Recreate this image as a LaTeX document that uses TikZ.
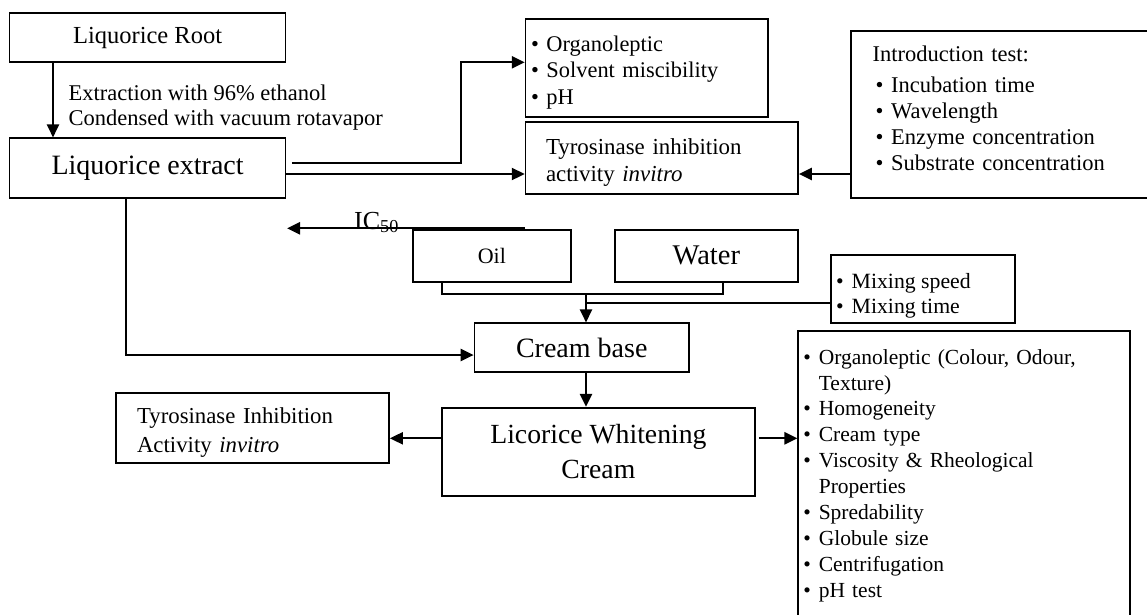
\documentclass[tikz,border=0pt]{standalone}
\usepackage{fontspec}
\setmainfont{Liberation Serif}
\usepackage{tikz}
\usetikzlibrary{arrows.meta}

\newcommand\bul{\makebox[15.5pt][l]{\textbullet}}

\tikzset{
  box/.style={draw, line width=1.7pt, inner sep=0pt},
  txt/.style={inner sep=0pt, align=left},
  line/.style={line width=2.3pt},
  arr/.style={line width=2.3pt, -{Triangle[length=13pt,width=12pt]}}
}

\begin{document}
\begin{tikzpicture}[x=1pt, y=-1pt]
		\useasboundingbox (0,0) rectangle (1147,614);
		% left column
		\node[box, minimum width=276, minimum height=49, font=\fontsize{24.5}{29}\selectfont] (root) at (147.6,37.8) {Liquorice Root};
		\node[box, minimum width=276, minimum height=59.4, font=\fontsize{28}{33}\selectfont] (extract) at (147.6,168) {Liquorice extract};
		\node[txt, anchor=west, font=\fontsize{22.5}{25}\selectfont] (extlbl) at (68.4,108) {Extraction with 96\% ethanol\\Condensed with vacuum rotavapor};
		% tests on the extract
		\node[box, minimum width=242.4, minimum height=97.7] (organo) at (646.8,67.9) {};
		\node[txt, text width=231.6, font=\fontsize{22.4}{26.7}\selectfont] (organotxt) at ([yshift=-4.5]organo.center) {\bul Organoleptic\\ \bul Solvent miscibility\\ \bul pH};
		\node[box, minimum width=272.4, minimum height=72.6] (tyro) at (661.8,158) {};
		\node[txt, text width=231.6, font=\fontsize{22.9}{27.3}\selectfont] (tyrotxt) at ([yshift=-4.5]tyro.center) {Tyrosinase inhibition\\activity \textit{invitro}};
		\node[box, minimum width=309.3, minimum height=167] (intro) at (1005.35,114.2) {};
		\node[txt, text width=265.5, font=\fontsize{22.5}{26}\selectfont] (introtxt) at ([yshift=6]intro.center) {Introduction test:\\[5pt] \hspace*{3pt}\bul Incubation time\\ \hspace*{3pt}\bul Wavelength\\ \hspace*{3pt}\bul Enzyme concentration\\ \hspace*{3pt}\bul Substrate concentration};
		% cream base
		\node[box, minimum width=158.3, minimum height=51.7, font=\fontsize{22}{26}\selectfont] (oil) at (491.85,255.85) {Oil};
		\node[box, minimum width=183.3, minimum height=51.7, font=\fontsize{28.5}{33}\selectfont] (water) at (706.35,255.85) {Water};
		\node[box, minimum width=183.7, minimum height=68.3] (mix) at (923.15,289.15) {};
		\begin{scope}
			\clip (mix.south west) rectangle (mix.north east);
			\node[txt, anchor=north west, font=\fontsize{21.75}{25}\selectfont] (mixtxt) at (836,273) {\bul Mixing speed\\ \bul Mixing time};
		\end{scope}
		\node[box, minimum width=214.5, minimum height=48.4, font=\fontsize{28}{33}\selectfont] (cb) at (581.75,347.5) {Cream base};
		\node[box, minimum width=313.2, minimum height=88.3, align=center, font=\fontsize{27.7}{35}\selectfont] (lwc) at (598.4,451.85) {Licorice Whitening\\Cream};
		\node[box, minimum width=273, minimum height=70] (tia) at (252.5,428.3) {};
		\node[txt, text width=231, font=\fontsize{22.8}{28.7}\selectfont] (tiatxt) at ([yshift=-4.5]tia.center) {Tyrosinase Inhibition\\Activity \textit{invitro}};
		\node[box, minimum width=331.7, minimum height=285] (tests) at (964.15,473.5) {};
		\node[txt, text width=321.7, font=\fontsize{21.5}{25.9}\selectfont] (teststxt) at ([yshift=-2]tests.center) {\bul Organoleptic (Colour, Odour,\\ \hspace*{15.5pt}Texture)\\ \bul Homogeneity\\ \bul Cream type\\ \bul Viscosity \& Rheological\\ \hspace*{15.5pt}Properties\\ \bul Spredability\\ \bul Globule size\\ \bul Centrifugation\\ \bul pH test};
		% IC50
		\coordinate (icR) at (525,228.3);
		\coordinate (icL) at (287,228.3);
		\draw[arr] (icR) -- (icL);
		\node[anchor=base west, inner sep=0pt, font=\fontsize{26}{30}\selectfont] (ic) at (354,229) {IC\textsubscript{50}};
		% connectors
		\draw[arr] ([xshift=-94.6]root.south) -- ([xshift=-94.6]extract.north);
		\draw[arr] ([xshift=5.4,yshift=4.7]extract.east) -| ([xshift=-63.6,yshift=5.6]organo.west) -- ([yshift=5.6]organo.west);
		\coordinate (e2) at ([yshift=-6]extract.east);
		\draw[arr] (e2) -- (e2 -| tyro.west);
		\draw[arr] (intro.west |- e2) -- (tyro.east |- e2);
		\draw[line] ([xshift=-49.85]oil.south) -- ++(0,11.6) -| ([xshift=16.45]water.south);
		\coordinate (j) at (586,293.3);
		\draw[arr] (j) -- (j |- cb.north);
		\coordinate (m) at ([yshift=-13.55]mix.west);
		\draw[line] (m) -- (m -| j);
		\draw[arr] ([xshift=-21.8]extract.south) |- ([yshift=-7.5]cb.west);
		\draw[arr] (cb.south -| j) -- (lwc.north -| j);
		\coordinate (w) at ([yshift=13.55]lwc.west);
		\draw[arr] (w) -- (w -| tia.east);
		\coordinate (e) at ([xshift=3,yshift=13.55]lwc.east);
		\draw[arr] (e) -- (e -| tests.west);
\end{tikzpicture}
\end{document}
